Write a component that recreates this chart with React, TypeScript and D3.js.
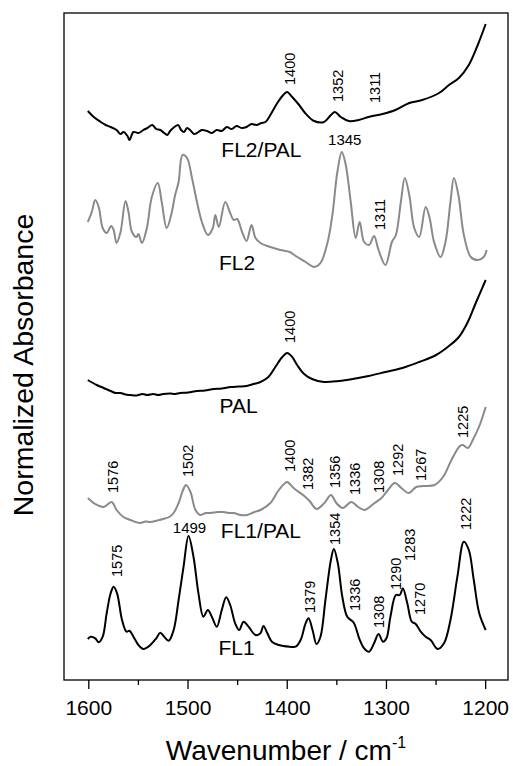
import React, { useEffect, useRef } from "react";
import * as d3 from "d3";

// spectra as [wavenumber, normalized absorbance (offset)]
const fl2Pal: [number, number][] = [
  [1601, 5.69], [1595, 5.63], [1588, 5.58], [1583, 5.55], [1578, 5.53], [1572, 5.5], [1568, 5.46],
  [1565, 5.48], [1561, 5.44], [1559, 5.4], [1555, 5.48], [1550, 5.47], [1545, 5.5], [1541, 5.52],
  [1536, 5.55], [1532, 5.51], [1528, 5.5], [1524, 5.47], [1521, 5.45], [1518, 5.49], [1515, 5.52],
  [1510, 5.55], [1507, 5.5], [1504, 5.48], [1501, 5.52], [1498, 5.5], [1494, 5.46], [1491, 5.47],
  [1486, 5.5], [1481, 5.49], [1476, 5.47], [1471, 5.5], [1466, 5.49], [1461, 5.53], [1456, 5.51],
  [1451, 5.54], [1446, 5.52], [1441, 5.53], [1436, 5.56], [1431, 5.55], [1426, 5.57], [1422, 5.58],
  [1417, 5.65], [1410, 5.77], [1404, 5.85], [1400, 5.88], [1395, 5.83], [1388, 5.75], [1382, 5.67],
  [1373, 5.59], [1363, 5.58], [1356, 5.65], [1352, 5.68], [1346, 5.63], [1338, 5.59], [1328, 5.6],
  [1318, 5.63], [1304, 5.66], [1291, 5.7], [1277, 5.77], [1264, 5.8], [1247, 5.87], [1237, 5.95],
  [1227, 6.02], [1217, 6.15], [1208, 6.35], [1200, 6.56],
];

const fl2: [number, number][] = [
  [1601, 4.58], [1597, 4.68], [1593.5, 4.8], [1590, 4.73], [1586, 4.52], [1582, 4.47], [1577.5, 4.54],
  [1575, 4.5], [1572, 4.37], [1568, 4.48], [1563, 4.79], [1560, 4.68], [1556.5, 4.48], [1552, 4.43],
  [1550, 4.46], [1546.5, 4.37], [1541.5, 4.52], [1536.5, 4.83], [1530.5, 4.97], [1526.5, 4.78],
  [1521.5, 4.52], [1517, 4.65], [1513, 4.85], [1509.5, 4.98], [1505.5, 5.25], [1501, 5.22],
  [1496, 5.02], [1491, 4.78], [1486, 4.58], [1480, 4.45], [1475, 4.52], [1472.5, 4.65], [1469, 4.53],
  [1462.5, 4.78], [1457.5, 4.67], [1454, 4.6], [1450.5, 4.61], [1445.5, 4.48], [1441, 4.39],
  [1436, 4.55], [1432, 4.42], [1427, 4.37], [1417, 4.33], [1407, 4.3], [1397.5, 4.28], [1391.5, 4.24],
  [1381.5, 4.18], [1373, 4.13], [1366.5, 4.17], [1359.5, 4.37], [1354.5, 4.65], [1349.5, 5.08],
  [1345, 5.28], [1341, 5.15], [1336, 4.78], [1331, 4.42], [1327, 4.58], [1322.5, 4.38], [1317.5, 4.35],
  [1312.5, 4.44], [1308, 4.3], [1301, 4.15], [1294.5, 4.38], [1290.5, 4.45], [1285.5, 4.78],
  [1281.5, 5.02], [1277, 4.85], [1272, 4.52], [1267, 4.43], [1260.5, 4.73], [1256.5, 4.62],
  [1252, 4.38], [1245.5, 4.23], [1240.5, 4.38], [1235.5, 4.78], [1232, 5.02], [1227.5, 4.85],
  [1222, 4.45], [1215, 4.23], [1208, 4.2], [1202, 4.23], [1199, 4.3],
];

const pal: [number, number][] = [
  [1601, 3.0], [1592, 2.95], [1585, 2.92], [1578, 2.89], [1573, 2.87], [1568, 2.87], [1563, 2.855],
  [1558, 2.85], [1552, 2.845], [1546, 2.86], [1541, 2.85], [1535, 2.86], [1530, 2.85], [1525, 2.86],
  [1518, 2.865], [1513, 2.86], [1508, 2.87], [1500, 2.875], [1491, 2.89], [1483, 2.895], [1474, 2.91],
  [1466, 2.915], [1457, 2.93], [1449, 2.935], [1441, 2.94], [1434, 2.96], [1427, 2.98], [1419, 3.03],
  [1412, 3.13], [1405, 3.23], [1400, 3.27], [1395, 3.23], [1390, 3.15], [1383, 3.06], [1375, 3.01],
  [1363, 2.98], [1348, 2.99], [1334, 3.01], [1318, 3.04], [1301, 3.08], [1284, 3.12], [1267, 3.18],
  [1250, 3.25], [1237, 3.34], [1227, 3.43], [1218, 3.58], [1210, 3.77], [1200, 4.0],
];

const fl1Pal: [number, number][] = [
  [1601, 1.82], [1593.5, 1.76], [1585, 1.73], [1577, 1.78], [1572, 1.7], [1565, 1.63], [1558, 1.6],
  [1553, 1.58], [1548, 1.57], [1543, 1.585], [1538, 1.58], [1531, 1.595], [1525, 1.61], [1519, 1.63],
  [1514.5, 1.67], [1509.5, 1.77], [1505, 1.9], [1502, 1.95], [1497.5, 1.88], [1492.5, 1.7],
  [1487.5, 1.65], [1482, 1.67], [1477.5, 1.67], [1470, 1.68], [1464, 1.68], [1459, 1.67],
  [1454, 1.67], [1447, 1.65], [1440.5, 1.65], [1433, 1.68], [1427, 1.7], [1417, 1.77], [1408.5, 1.9],
  [1402, 1.97], [1400, 1.98], [1392.5, 1.91], [1384, 1.85], [1377.5, 1.79], [1370.5, 1.71],
  [1362.5, 1.77], [1356, 1.85], [1350.5, 1.77], [1344, 1.72], [1335.5, 1.78], [1328.5, 1.73],
  [1322, 1.7], [1312, 1.77], [1305, 1.82], [1298.5, 1.9], [1291.5, 1.97], [1285, 1.92], [1277.5, 1.87],
  [1270, 1.93], [1263, 1.94], [1251.5, 1.95], [1243, 2.03], [1234.5, 2.2], [1226, 2.34],
  [1223, 2.35], [1218, 2.32], [1213, 2.4], [1206, 2.55], [1200, 2.73],
];

const fl1: [number, number][] = [
  [1601, 0.41], [1598, 0.433], [1593.5, 0.417], [1590, 0.377], [1586, 0.433], [1582, 0.667],
  [1578, 0.867], [1575, 0.933], [1571.5, 0.867], [1566.5, 0.6], [1562, 0.483], [1559, 0.493],
  [1555, 0.433], [1550, 0.35], [1545, 0.31], [1538, 0.35], [1532, 0.417], [1528, 0.473], [1524, 0.433],
  [1519.5, 0.393], [1514.5, 0.5], [1509.5, 0.8], [1504.5, 1.133], [1499.5, 1.44], [1494.5, 1.233],
  [1489.5, 0.867], [1484.5, 0.633], [1480, 0.7], [1476, 0.633], [1471, 0.533], [1466, 0.7],
  [1461.5, 0.827], [1457.5, 0.75], [1452.5, 0.567], [1448.5, 0.5], [1444, 0.583], [1439, 0.533],
  [1432, 0.45], [1427, 0.467], [1424, 0.54], [1420, 0.467], [1415.5, 0.383], [1408.5, 0.35],
  [1397.5, 0.333], [1391.5, 0.333], [1386.5, 0.4], [1381.5, 0.567], [1378.5, 0.617], [1374.5, 0.5],
  [1370.5, 0.36], [1366.5, 0.433], [1361.5, 0.8], [1356, 1.2], [1353, 1.31], [1349, 1.167],
  [1344.5, 0.833], [1339.5, 0.633], [1333, 0.573], [1327.5, 0.417], [1322.5, 0.317], [1317.5, 0.283],
  [1312.5, 0.367], [1308, 0.46], [1303.5, 0.383], [1300, 0.417], [1296, 0.633], [1290.5, 0.85],
  [1286.5, 0.85], [1283.5, 0.917], [1279, 0.767], [1274.5, 0.583], [1270.5, 0.56], [1265.5, 0.483],
  [1260.5, 0.433], [1255.5, 0.4], [1248.5, 0.31], [1242, 0.367], [1235.5, 0.6], [1228.5, 1.033],
  [1222, 1.383], [1217, 1.3], [1212, 1.0], [1206.5, 0.667], [1200, 0.5],
];

const seriesList = [
  { name: "FL2/PAL", data: fl2Pal, color: "#000000" },
  { name: "FL2", data: fl2, color: "#8a8a8a" },
  { name: "PAL", data: pal, color: "#000000" },
  { name: "FL1/PAL", data: fl1Pal, color: "#8a8a8a" },
  { name: "FL1", data: fl1, color: "#000000" },
];

// sample names: [text, wavenumber (centre), absorbance (baseline)]
const sampleLabels: [string, number, number][] = [
  ["FL2/PAL", 1426, 5.23],
  ["FL2", 1450.5, 4.1],
  ["PAL", 1449, 2.67],
  ["FL1/PAL", 1426.5, 1.42],
  ["FL1", 1451, 0.25],
];

// vertical peak labels: [text, wavenumber, absorbance where text starts]
const peakLabels: [string, number, number][] = [
  ["1400", 1397.5, 5.95], ["1352", 1349, 5.78], ["1311", 1312, 5.77],
  ["1311", 1307, 4.5],
  ["1400", 1397.5, 3.37],
  ["1576", 1576, 1.87], ["1502", 1500, 2.03], ["1400", 1397.5, 2.08], ["1382", 1379, 1.9],
  ["1356", 1352, 1.92], ["1336", 1332, 1.85], ["1308", 1307.5, 1.87], ["1292", 1288.5, 2.04],
  ["1267", 1265, 1.99], ["1225", 1223, 2.42],
  ["1575", 1571.5, 1.03], ["1379", 1377.5, 0.67], ["1354", 1352, 1.35], ["1336", 1332, 0.69],
  ["1308", 1307.5, 0.52], ["1290", 1290, 0.9], ["1283", 1276.5, 1.19], ["1270", 1266.5, 0.65],
  ["1222", 1220, 1.5],
];

// horizontal peak labels: [text, wavenumber (centre), absorbance (baseline)]
const flatLabels: [string, number, number][] = [
  ["1345", 1342, 5.35],
  ["1499", 1498.5, 1.47],
];

const majorTicks = [1600, 1500, 1400, 1300, 1200];
const minorTicks = [1550, 1450, 1350, 1250];

const W = 513;
const H = 766;
const FONT = "'Liberation Sans', Arial, sans-serif";

export default function App() {
  const svgRef = useRef<SVGSVGElement>(null);

  useEffect(() => {
    const svg = d3.select(svgRef.current);
    svg.selectAll("*").remove();

    const left = 64, right = 508, top = 13, bottom = 680;
    const x = d3.scaleLinear().domain([1625, 1177.5]).range([left, right]);
    const y = d3.scaleLinear().domain([0, 6.67]).range([bottom, top]);

    svg.append("rect").attr("width", W).attr("height", H).attr("fill", "#fff");

    const line = d3
      .line<[number, number]>()
      .x((d) => x(d[0]))
      .y((d) => y(d[1]))
      .curve(d3.curveCatmullRom.alpha(0.5));

    seriesList.forEach((s) => {
      svg.append("path")
        .datum(s.data)
        .attr("fill", "none")
        .attr("stroke", s.color)
        .attr("stroke-width", 2)
        .attr("stroke-linejoin", "round")
        .attr("d", line);
    });

    // frame
    svg.append("rect")
      .attr("x", left).attr("y", top)
      .attr("width", right - left).attr("height", bottom - top)
      .attr("fill", "none").attr("stroke", "#000").attr("stroke-width", 1.3);

    // x axis ticks
    const g = svg.append("g");
    majorTicks.forEach((t) => {
      g.append("line")
        .attr("x1", x(t)).attr("x2", x(t))
        .attr("y1", bottom).attr("y2", bottom + 9)
        .attr("stroke", "#000").attr("stroke-width", 1.3);
      g.append("text")
        .attr("x", x(t)).attr("y", bottom + 35)
        .attr("text-anchor", "middle")
        .attr("font-family", FONT).attr("font-size", 21)
        .text(t);
    });
    minorTicks.forEach((t) => {
      g.append("line")
        .attr("x1", x(t)).attr("x2", x(t))
        .attr("y1", bottom).attr("y2", bottom + 5)
        .attr("stroke", "#000").attr("stroke-width", 1.3);
    });

    const xt = svg.append("text")
      .attr("x", (left + right) / 2).attr("y", 760)
      .attr("text-anchor", "middle")
      .attr("font-family", FONT).attr("font-size", 28);
    xt.append("tspan").text("Wavenumber / cm");
    xt.append("tspan").attr("font-size", 16).attr("dy", -12).text("-1");

    svg.append("text")
      .attr("transform", `translate(33,365) rotate(-90)`)
      .attr("text-anchor", "middle")
      .attr("font-family", FONT).attr("font-size", 28.5)
      .text("Normalized Absorbance");

    sampleLabels.forEach(([t, w, a]) => {
      svg.append("text")
        .attr("x", x(w)).attr("y", y(a))
        .attr("text-anchor", "middle")
        .attr("font-family", FONT).attr("font-size", 21)
        .text(t);
    });

    peakLabels.forEach(([t, w, a]) => {
      svg.append("text")
        .attr("transform", `translate(${x(w)},${y(a)}) rotate(-90)`)
        .attr("dy", "0.35em")
        .attr("font-family", FONT).attr("font-size", 14.5)
        .text(t);
    });

    flatLabels.forEach(([t, w, a]) => {
      svg.append("text")
        .attr("x", x(w)).attr("y", y(a))
        .attr("text-anchor", "middle")
        .attr("font-family", FONT).attr("font-size", 15)
        .text(t);
    });
  }, []);

  return (
    <svg
      ref={svgRef}
      width={W}
      height={H}
      style={{ position: "absolute", left: 0, top: 0, display: "block" }}
    />
  );
}
